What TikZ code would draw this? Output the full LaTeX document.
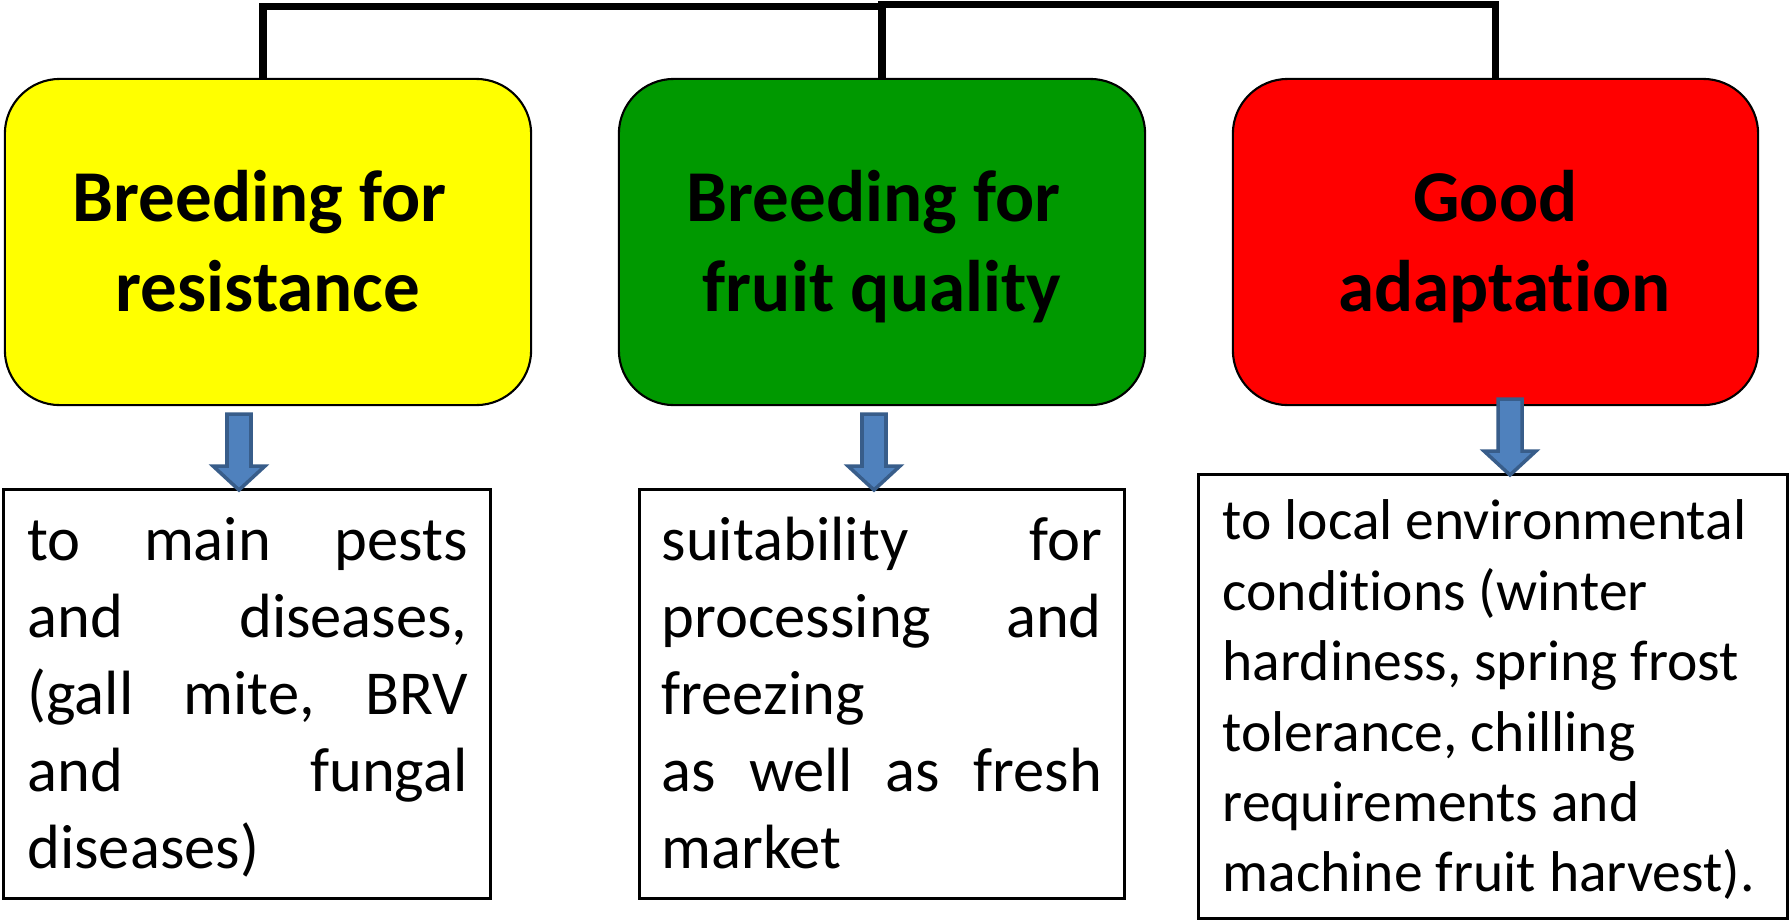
\documentclass[tikz,border=0pt]{standalone}
\usepackage{fontspec}
\setmainfont{Carlito}[Ligatures=NoCommon]
\usetikzlibrary{calc}
\definecolor{ylw}{RGB}{255,255,0}
\definecolor{grn}{RGB}{0,153,0}
\definecolor{rd}{RGB}{255,0,0}
\definecolor{arrfill}{RGB}{79,129,189}
\definecolor{arrdraw}{RGB}{56,93,138}
\newcommand\titlefont{\fontsize{20.77pt}{25.61pt}\selectfont\bfseries}
\newcommand\bodyfont{\fontsize{17.78pt}{21.91pt}\selectfont}
\newcommand\bodyfontb{\fontsize{16.36pt}{20.03pt}\selectfont}
\begin{document}
\begin{tikzpicture}[x=0.01cm,y=-0.01cm,
 rbox/.style={draw=black, line width=0.6pt, rounded corners=0.55cm, minimum width=5.26cm, minimum height=3.26cm, inner sep=0pt},
 tbox/.style={draw=black, line width=0.8pt, inner sep=0pt, fill=white},
 ttl/.style={inner sep=0pt, anchor=north, font=\titlefont},
 txt/.style={inner sep=0pt, anchor=north west},
 conn/.style={draw=black, line width=2pt},
 barrow/.pic={\draw[fill=arrfill, draw=arrdraw, line width=1pt, line join=miter] (-12,0) -- (-12,52) -- (-26,52) -- (0,76) -- (26,52) -- (12,52) -- (12,0) -- cycle;}
]
\useasboundingbox (0,0) rectangle (1790,920);
\fill[white] (0,0) rectangle (1790,920);

% top boxes
\node[rbox, fill=ylw] (yb) at (268,242) {};
\node[rbox, fill=grn] (gb) at (882,242) {};
\node[rbox, fill=rd, minimum width=5.25cm] (rb) at (1495.5,242) {};

% titles
\node[ttl] (yt) at ([yshift=-0.8cm]yb.north) {\vbox{\hbox to 5cm{\hfil\strut Breeding for\ \hfil}\hbox to 5cm{\hfil\strut resistance\hfil}}};
\node[ttl] (gt) at ([yshift=-0.8cm]gb.north) {\vbox{\hbox to 5cm{\hfil\strut Breeding for\ \hfil}\hbox to 5cm{\hfil\strut fruit quality\hfil}}};
\node[ttl] (rt) at ([yshift=-0.8cm]rb.north) {\vbox{\hbox to 5cm{\hfil\strut Good\hfil}\hbox to 5cm{\hfil\kern0.18cm\strut adaptation\hfil}}};

% connectors
\draw[conn] ([xshift=-0.05cm]yb.north) |- ([yshift=0.715cm]gb.north) -- (gb.north);
\draw[conn] (gb.north) -- ([yshift=0.735cm]gb.north) -| (rb.north);

% lower boxes
\node[tbox, minimum width=4.86cm, minimum height=4.08cm] (b1) at (247,694) {};
\node[tbox, minimum width=4.846cm, minimum height=4.08cm] (b2) at (881.7,694) {};
\node[tbox, minimum width=5.88cm, minimum height=4.43cm] (b3) at (1493,696.5) {};

% block arrows
\pic at (239,414) {barrow};
\pic at (874,414) {barrow};
\pic at (1510,399) {barrow};

% texts
\node[txt, font=\bodyfont] (x1) at (26.7,505.6) {\vbox{\hsize=4.40cm
 \hbox to\hsize{\strut to\hfill main\hfill pests}
 \hbox to\hsize{\strut and\hfill diseases,}
 \hbox to\hsize{\strut (gall\hfill mite,\hfill BRV}
 \hbox to\hsize{\strut and\hfill fungal}
 \hbox to\hsize{\strut diseases)\hfil}}};
\node[txt, font=\bodyfont] (x2) at (661,505.6) {\vbox{\hsize=4.40cm
 \hbox to\hsize{\strut suitability\hfill for}
 \hbox to\hsize{\strut processing\hfill and}
 \hbox to\hsize{\strut freezing\hfil}
 \hbox to\hsize{\strut as\hfill well\hfill as\hfill fresh}
 \hbox to\hsize{\strut market\hfil}}};
\node[txt, font=\bodyfontb] (x3) at (1222,489.7) {\vbox{\hsize=5.5cm
 \hbox to\hsize{\strut to local environmental\hfil}
 \hbox to\hsize{\strut conditions (winter\hfil}
 \hbox to\hsize{\strut hardiness, spring frost\hfil}
 \hbox to\hsize{\strut tolerance, chilling\hfil}
 \hbox to\hsize{\strut requirements and\hfil}
 \hbox to\hsize{\strut machine fruit harvest).\hfil}}};
\end{tikzpicture}
\end{document}
